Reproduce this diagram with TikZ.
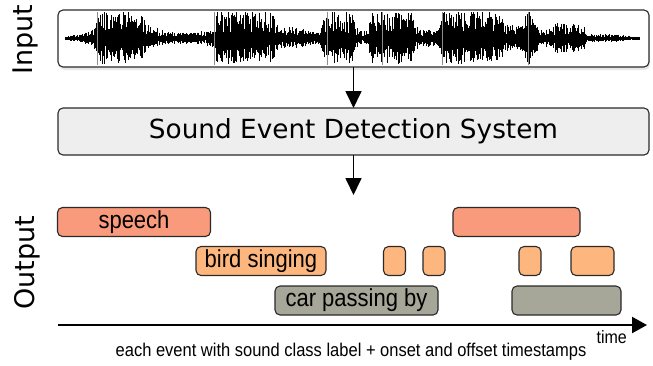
\documentclass[tikz,border=0pt]{standalone}
\usepackage{fontspec}
\setmainfont{Liberation Sans}
\newfontfamily\dejavu{DejaVu Sans}
\usetikzlibrary{arrows.meta,shadows}
\definecolor{speechc}{HTML}{F89A7B}
\definecolor{birdc}{HTML}{FDB67D}
\definecolor{carc}{HTML}{A6A699}
\definecolor{sedc}{HTML}{EEEEEE}
\definecolor{edgec}{HTML}{2A2A2A}
\newcommand{\tallish}[1]{\scalebox{1}[1.12]{#1}}
\begin{document}
\begin{tikzpicture}[x=1pt,y=-1pt,
  bigbox/.style={draw=edgec, line width=1.1pt, rounded corners=5pt, anchor=north west, inner sep=0pt, outer sep=0pt, minimum width=591pt},
  evbox/.style={draw=edgec, line width=1.1pt, rounded corners=5pt, anchor=north west, inner sep=0pt, outer sep=0pt, minimum height=29pt, font=\fontsize{22}{24}\selectfont},
  flow/.style={line width=1.7pt, -{Triangle[length=17pt,width=16pt]}},
  axisline/.style={line width=2.2pt, -{Triangle[length=15pt,width=16pt]}},
  wave/.style={line width=0.6pt, black},
  mark line/.style={line width=0.5pt, black!45},
  sidelabel/.style={rotate=90, font=\dejavu\fontsize{27}{30}\selectfont}
]
\useasboundingbox (0,0) rectangle (653,365);

% input box
\node[bigbox, fill=white, minimum height=57pt,
      drop shadow={opacity=0.18, shadow xshift=1pt, shadow yshift=-3pt}] (inp) at (58,10) {};

% waveform
\pgfmathsetseed{11}
\foreach \xa/\aa/\xb/\ab in {65/1/80/3, 80/3/92/8, 92/8/98/25, 98/25/140/23, 140/23/148/11,
  148/11/165/6, 165/6/175/4, 175/4/198/5, 198/5/212/8, 212/8/217/26, 217/26/270/24,
  270/24/278/11, 278/11/300/8, 300/8/318/5, 318/5/326/25, 326/25/352/23, 352/23/358/6,
  358/6/367/6, 367/6/372/24, 372/24/412/22, 412/22/418/7, 418/7/438/7, 438/7/444/26,
  444/26/498/24, 498/24/505/11, 505/11/522/11, 522/11/526/24, 526/24/534/22, 534/22/538/7,
  538/7/550/8, 550/8/555/13, 555/13/582/12, 582/12/588/3, 588/3/620/2.5, 620/2.5/630/1, 630/1/640/0.5}{
  \pgfmathsetmacro\xs{\xa+0.6}
  \foreach \x in {\xa,\xs,...,\xb}{
    \pgfmathsetmacro\r{rnd}
    \pgfmathsetmacro\q{rnd}
    \pgfmathsetmacro\amp{\aa+(\ab-\aa)*(\x-\xa)/(\xb-\xa)}
    \pgfmathsetmacro\hu{min(26,1.12*\amp*(0.16+0.84*\r^1.15)+0.9)}
    \pgfmathsetmacro\hd{min(26,1.12*\amp*(0.16+0.84*(0.6*\r+0.4*\q)^1.15)+0.9)}
    \draw[wave] (\x,38.3-\hu) -- (\x,38.3+\hd);
  }
}
\foreach \x in {97,214,327,382,442,528}{
  \draw[mark line] (\x,12) -- (\x,65);
}

\node[sidelabel] (inlab) at (25,40) {Input};

% SED box
\node[bigbox, fill=sedc, minimum height=47pt] (sed) at (58,108) {};
\node[font=\dejavu\fontsize{26.3}{30}\selectfont] (sedtxt) at (sed.center) {Sound Event Detection System};

\coordinate (outtop) at (353.5,195);
\draw[flow] (inp.south) -- (sed.north);
\draw[flow] (sed.south) -- (outtop);

\node[sidelabel] (outlab) at (27,263) {Output};

% events
\node[evbox, fill=speechc, minimum width=153pt] (sp1) at (57.5,207.5) {\tallish{speech}};
\node[evbox, fill=speechc, minimum width=127pt] (sp2) at (453,207.5) {};
\node[evbox, fill=birdc, minimum width=130pt] (bd1) at (196,246.5) {\tallish{bird singing}};
\node[evbox, fill=birdc, minimum width=22pt] (bd2) at (383.5,246.5) {};
\node[evbox, fill=birdc, minimum width=22pt] (bd3) at (423,246.5) {};
\node[evbox, fill=birdc, minimum width=22pt] (bd4) at (519,246.5) {};
\node[evbox, fill=birdc, minimum width=43pt] (bd5) at (571,246.5) {};
\node[evbox, fill=carc, minimum width=163pt] (car1) at (275,286) {\tallish{car passing by}};
\node[evbox, fill=carc, minimum width=109pt] (car2) at (512,286) {};

% time axis
\coordinate (t0) at (58,325);
\coordinate (t1) at (647,325);
\draw[axisline] (t0) -- (t1);
\node[anchor=east, font=\fontsize{16}{18}\selectfont, inner sep=0pt] (tlab) at (627,337) {\tallish{time}};
\node[font=\fontsize{16.5}{18}\selectfont, inner sep=0pt] (cap) at (351,352) {\tallish{each event with sound class label + onset and offset timestamps}};
\end{tikzpicture}
\end{document}
